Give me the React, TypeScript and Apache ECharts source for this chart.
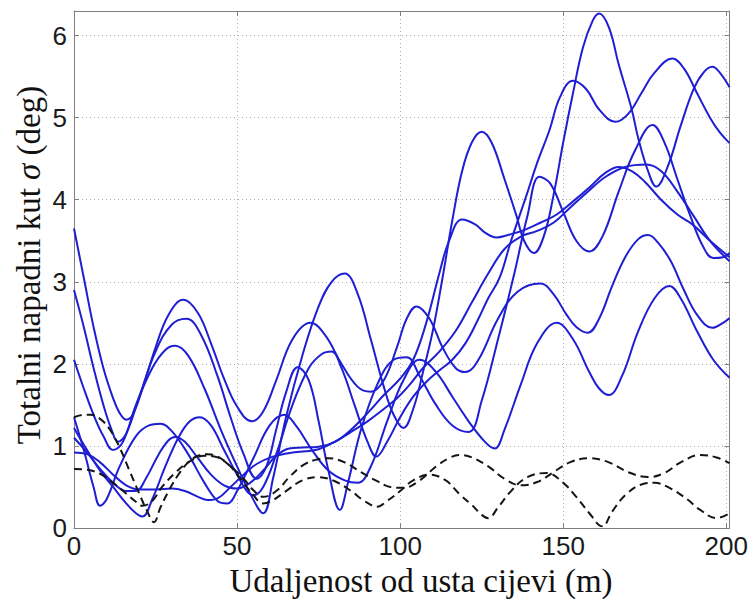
import React, { useEffect, useRef } from "react";
import * as echarts from "echarts";

// x: distance from muzzle (m), y: total angle of attack (deg)
const blueA: number[][] = [[0,2.05],[3,1.7],[6,1.38],[9,1.12],[12,0.95],[15,1.05],[19,1.5],[24,1.95],[28,2.17],[31,2.22],[35,2.1],[40,1.7],[45,1.2],[50,0.75],[54,0.42],[58,0.18],[61,0.6],[65,1.35],[70,2.1],[75,2.7],[79,3.0],[83,3.1],[87,2.85],[91,2.3],[95,1.72],[98,1.38],[101,1.22],[104,1.45],[107,1.9],[110,2.4],[113,3.05],[116,3.75],[119,4.35],[122,4.7],[125,4.83],[128,4.7],[132,4.25],[135.7,3.8],[138,3.5],[141,3.35],[144,3.55],[147,4.05],[150,4.7],[153,5.3],[156,5.85],[159,6.18],[161,6.27],[164,6.1],[167,5.65],[171,5.1],[173,4.75],[176,4.35],[178.5,4.16],[182,4.4],[186,4.9],[190,5.35],[193,5.55],[195.7,5.62],[198,5.55],[201,5.37]];
const blueB: number[][] = [[0,3.65],[3,3.05],[6,2.45],[9,1.95],[12,1.58],[14,1.4],[16,1.32],[18,1.38],[21,1.7],[25,2.2],[29,2.6],[33.5,2.78],[38,2.62],[42,2.25],[46,1.82],[50,1.48],[54.5,1.3],[58,1.42],[62,1.8],[67,2.3],[72.5,2.5],[77,2.35],[82,2.0],[87,1.72],[91,1.66],[95,1.8],[99,2.2],[102,2.55],[105,2.7],[109,2.55],[113,2.2],[117,1.95],[120,1.9],[124,2.05],[130,2.55],[136,2.88],[143,2.98],[147,2.85],[151,2.6],[154,2.45],[157.5,2.38],[161,2.55],[165,2.95],[169,3.3],[173,3.52],[176,3.57],[179,3.48],[183,3.25],[187,2.9],[191,2.6],[195.7,2.44],[199,2.5],[201,2.56]];
const blueC: number[][] = [[0,2.9],[3,2.45],[6,1.95],[9,1.5],[11.5,1.2],[13.5,1.05],[16,1.15],[20,1.6],[25,2.15],[30,2.48],[34.5,2.55],[39,2.35],[44,1.85],[48,1.35],[52,0.9],[56,0.6],[59,0.75],[62,1.2],[65,1.65],[68.6,1.96],[72,1.8],[75,1.3],[78,0.7],[81.5,0.22],[84,0.55],[88,1.2],[93,1.75],[98,2.05],[102,2.08],[106,1.85],[111,1.5],[116,1.25],[121,1.17],[125,1.55],[130,2.3],[135,3.1],[139,3.8],[142.7,4.28],[146,4.2],[150,3.85],[154,3.5],[158,3.37],[162,3.55],[167,4.1],[172,4.6],[177.4,4.91],[181,4.7],[185,4.25],[189,3.8],[193,3.42],[196,3.29],[199,3.3],[201,3.35]];
const blueD: number[][] = [[0,1.35],[3,0.95],[6,0.5],[8,0.27],[10,0.35],[14,0.75],[19,1.12],[23,1.25],[26.5,1.27],[30,1.18],[35,0.9],[40,0.55],[44,0.33],[47,0.3],[50,0.45],[55,0.85],[60,1.25],[64.5,1.38],[68,1.25],[73,0.95],[78,0.7],[83,0.58],[87,0.55],[91,0.75],[96,1.3],[101,1.8],[106,2.05],[111,1.9],[116,1.6],[121,1.3],[126,1.05],[129,0.97],[132,1.2],[137,1.75],[142,2.25],[148,2.5],[153,2.3],[158,1.9],[161,1.7],[164,1.62],[168,1.85],[173,2.4],[178,2.8],[182.5,2.95],[186,2.8],[191,2.4],[196,2.05],[201,1.83]];
const blueE: number[][] = [[0,1.22],[4,0.95],[8,0.7],[12,0.5],[16,0.3],[19,0.18],[21,0.14],[24,0.35],[28,0.75],[32,1.1],[35.5,1.3],[38.6,1.35],[42,1.25],[46,0.95],[50,0.65],[53,0.45],[55,0.4],[58,0.5],[62,0.9],[67,1.5],[72,1.95],[76,2.12],[79,2.15],[82,1.95],[86,1.5],[90,1.05],[92.7,0.87],[96,1.05],[100,1.35],[104,1.6],[108,1.78],[112,1.92],[116,2.05],[120,2.25],[124,2.55],[127,2.8],[130.5,3.05],[134,3.5],[138.7,4.05],[142,4.45],[145.8,4.85],[149,5.25],[153,5.45],[157,5.35],[161,5.1],[166,4.95],[170,5.05],[174,5.3],[178,5.55],[183.5,5.72],[187,5.6],[191,5.3],[195,5.0],[198,4.82],[201,4.69]];
const blueF: number[][] = [[0,1.1],[4,0.92],[8,0.72],[12,0.55],[16,0.45],[19,0.45],[22,0.6],[26,0.9],[29,1.07],[31,1.11],[34,1.05],[38,0.85],[42,0.65],[46,0.52],[50,0.48],[54,0.55],[58,0.7],[62,0.88],[66,0.97],[70,0.98],[75,0.99],[80,1.05],[85,1.2],[90,1.4],[95,1.62],[100,1.82],[104,2.05],[108,2.5],[112,3.1],[115,3.5],[119,3.76],[123,3.7],[126,3.6],[129.5,3.54],[133,3.57],[138,3.63],[143,3.72],[148,3.82],[153,3.98],[158,4.15],[163,4.33],[167,4.4],[171,4.35],[175,4.22],[180,4.0],[185,3.82],[189.6,3.7],[195,3.5],[201,3.3]];
const blueG: number[][] = [[0,0.92],[4,0.9],[8,0.8],[12,0.65],[16,0.52],[20,0.47],[25,0.47],[30,0.48],[34,0.45],[38,0.38],[41,0.34],[44,0.36],[48,0.5],[52,0.65],[56,0.78],[61,0.87],[67,0.92],[74,0.95],[79,1.03],[84.5,1.16],[90,1.3],[95,1.45],[99,1.58],[103,1.75],[107,1.95],[112,2.15],[117,2.4],[122,2.75],[127,3.1],[132,3.4],[137,3.55],[142,3.62],[147,3.72],[152,3.9],[157,4.08],[163,4.28],[169,4.4],[175.5,4.43],[180,4.35],[185,4.1],[190,3.8],[195,3.5],[201,3.25]];
const dashA: number[][] = [[0,1.35],[3,1.38],[5,1.38],[8,1.33],[11,1.2],[14,0.98],[17,0.7],[20,0.42],[22.5,0.2],[24.5,0.07],[26.5,0.25],[29,0.45],[32,0.65],[35,0.8],[38,0.88],[41,0.9],[44,0.87],[48,0.75],[52,0.55],[55,0.4],[58,0.3],[61,0.34],[65,0.45],[70,0.58],[75,0.62],[80,0.57],[85,0.45],[89,0.33],[93,0.26],[96,0.33],[100,0.45],[104,0.58],[109,0.65],[114,0.58],[118,0.42],[122,0.28],[125,0.16],[127,0.12],[130,0.25],[134,0.45],[139,0.62],[145,0.67],[150,0.55],[154,0.38],[158,0.18],[162,0.02],[165,0.2],[169,0.4],[174,0.53],[178,0.55],[183,0.48],[188,0.35],[192,0.22],[197,0.12],[201,0.18]];
const dashB: number[][] = [[0,0.72],[4,0.71],[8,0.66],[12,0.55],[16,0.42],[19,0.32],[21,0.27],[24,0.33],[27,0.5],[31,0.67],[35,0.8],[40,0.88],[44,0.86],[48,0.75],[52,0.6],[55,0.46],[58,0.38],[62,0.45],[66,0.62],[70,0.76],[74,0.83],[78,0.85],[83,0.8],[88,0.68],[93,0.57],[97,0.5],[101,0.49],[106,0.58],[111,0.75],[115,0.85],[118,0.89],[122,0.86],[127,0.75],[132,0.6],[137,0.52],[142,0.56],[147,0.68],[152,0.8],[158,0.85],[164,0.8],[170,0.68],[176,0.62],[181,0.67],[186,0.8],[192,0.89],[197,0.86],[201,0.79]];

const blueSeries = [blueA, blueB, blueC, blueD, blueE, blueF, blueG];
const dashedSeries = [dashA, dashB];

const X_TICKS = [0, 50, 100, 150, 200];
const Y_TICKS = [0, 1, 2, 3, 4, 5, 6];
const X_TITLE = "Udaljenost od usta cijevi (m)";
const Y_TITLE = "Totalni napadni kut {i|σ} (deg)";

const frameColor = "#808080";
const sans = '"Liberation Sans", Arial, Helvetica, sans-serif';
const serif = '"Liberation Serif", "Times New Roman", serif';

export default function App() {
  const ref = useRef<HTMLDivElement>(null);
  useEffect(() => {
    document.body.style.margin = "0";
    const chart = echarts.init(ref.current!, null, { renderer: "svg" });
    const axisCommon = {
      axisLine: { show: true, onZero: false, lineStyle: { color: frameColor, width: 1 } },
      axisTick: { show: true, inside: true, length: 5, lineStyle: { color: frameColor } },
    };
    const gridLine = { show: true, lineStyle: { type: [1, 3], color: "#b0b0b0", width: 1 } };
    const option = {
      animation: false,
      backgroundColor: "#ffffff",
      grid: { left: 74, right: 21, top: 11, bottom: 74 },
      xAxis: [
        {
          type: "value", min: 0, max: 201, interval: 50, position: "bottom",
          ...axisCommon,
          axisLabel: {
            fontSize: 26, color: "#1a1a1a", fontFamily: sans, margin: 5,
            formatter: (v: number) => (X_TICKS.includes(v) ? String(v) : ""),
          },
          splitLine: gridLine,
        },
        {
          type: "value", min: 0, max: 201, interval: 50, position: "top",
          ...axisCommon, axisLabel: { show: false }, splitLine: { show: false },
        },
      ],
      yAxis: [
        {
          type: "value", min: 0, max: 6.3, interval: 1, position: "left",
          ...axisCommon,
          axisLabel: {
            fontSize: 26, color: "#1a1a1a", fontFamily: sans, margin: 7,
            formatter: (v: number) => (Y_TICKS.includes(v) ? String(v) : ""),
          },
          splitLine: gridLine,
        },
        {
          type: "value", min: 0, max: 6.3, interval: 1, position: "right",
          ...axisCommon, axisLabel: { show: false }, splitLine: { show: false },
        },
      ],
      graphic: [
        {
          type: "text", x: 421, y: 581,
          style: { text: X_TITLE, font: `33px ${serif}`, fill: "#111", textAlign: "center", textVerticalAlign: "middle" },
        },
        {
          type: "text", x: 29, y: 265, rotation: Math.PI / 2,
          style: {
            text: Y_TITLE, fontFamily: serif, fontSize: 33, fill: "#111",
            textAlign: "center", textVerticalAlign: "middle",
            rich: { i: { fontFamily: serif, fontSize: 33, fontStyle: "italic", fill: "#111" } },
          },
        },
      ],
      series: [
        ...blueSeries.map((d) => ({
          type: "line", data: d, xAxisIndex: 0, yAxisIndex: 0, showSymbol: false, symbol: "none",
          smooth: 0.4, lineStyle: { color: "#1e1ed4", width: 2 }, silent: true,
        })),
        ...dashedSeries.map((d) => ({
          type: "line", data: d, xAxisIndex: 0, yAxisIndex: 0, showSymbol: false, symbol: "none",
          smooth: 0.4, lineStyle: { color: "#151515", width: 2, type: [8, 5] }, silent: true,
        })),
      ],
    };
    chart.setOption(option as any);
    return () => chart.dispose();
  }, []);
  return <div ref={ref} style={{ position: "absolute", left: 0, top: 0, width: 751, height: 602 }} />;
}
